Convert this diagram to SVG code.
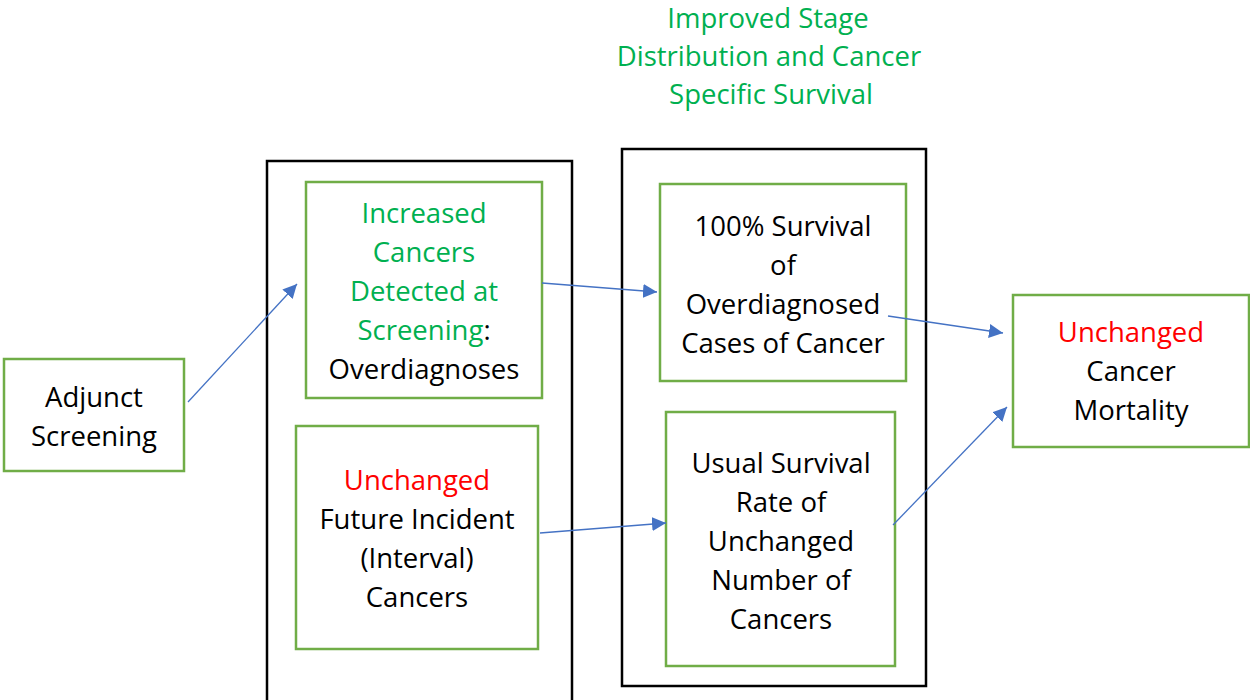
<svg xmlns="http://www.w3.org/2000/svg" width="1250" height="700" viewBox="0 0 1250 700">
  <defs>
    <style>
      .frame { fill: none; stroke: #000000; stroke-width: 2.5; }
      .box { fill: #ffffff; stroke: #70AD47; stroke-width: 2.5; }
      .lbl { font-family: "Open Sans", "Liberation Sans", sans-serif; font-size: 27.5px; fill: #000000; text-anchor: middle; }
      .g { fill: #00B050; }
      .r { fill: #FF0000; }
      .conn { stroke: #4472C4; stroke-width: 1.3; fill: none; marker-end: url(#arrow); }
    </style>
    <marker id="arrow" viewBox="0 0 10 10" refX="10" refY="5" markerWidth="14" markerHeight="14" markerUnits="userSpaceOnUse" orient="auto">
      <path d="M0,0 L10,5 L0,10 z" fill="#4472C4"/>
    </marker>
  </defs>
  <rect width="1250" height="700" fill="#ffffff"/>

  <!-- heading -->
  <g id="heading">
    <text class="lbl g" x="768" y="28">Improved Stage</text>
    <text class="lbl g" x="769" y="66">Distribution and Cancer</text>
    <text class="lbl g" x="771" y="104">Specific Survival</text>
  </g>

  <!-- grouping frames -->
  <g id="frame-detection">
    <rect class="frame" x="267" y="161" width="305" height="545"/>
  </g>
  <g id="frame-survival">
    <rect class="frame" x="622" y="149" width="304" height="537"/>
  </g>

  <g id="adjunct">
    <rect class="box" x="4" y="359" width="180" height="112"/>
    <text class="lbl" x="94" y="407">Adjunct</text>
    <text class="lbl" x="94" y="446">Screening</text>
  </g>

  <g id="increased">
    <rect class="box" x="306" y="182" width="236" height="216"/>
    <text class="lbl g" x="424" y="223">Increased</text>
    <text class="lbl g" x="424" y="262">Cancers</text>
    <text class="lbl g" x="424" y="301">Detected at</text>
    <text class="lbl" x="424" y="340"><tspan class="g">Screening</tspan>:</text>
    <text class="lbl" x="424" y="379">Overdiagnoses</text>
  </g>

  <g id="interval">
    <rect class="box" x="296" y="426" width="242" height="223"/>
    <text class="lbl r" x="417" y="490">Unchanged</text>
    <text class="lbl" x="417" y="529">Future Incident</text>
    <text class="lbl" x="417" y="568">(Interval)</text>
    <text class="lbl" x="417" y="607">Cancers</text>
  </g>

  <g id="overdiag-survival">
    <rect class="box" x="660" y="184" width="246" height="197"/>
    <text class="lbl" x="783" y="236">100% Survival</text>
    <text class="lbl" x="783" y="275">of</text>
    <text class="lbl" x="783" y="314">Overdiagnosed</text>
    <text class="lbl" x="783" y="353">Cases of Cancer</text>
  </g>

  <g id="usual-survival">
    <rect class="box" x="666" y="412" width="229" height="254"/>
    <text class="lbl" x="781" y="473">Usual Survival</text>
    <text class="lbl" x="781" y="512">Rate of</text>
    <text class="lbl" x="781" y="551">Unchanged</text>
    <text class="lbl" x="781" y="590">Number of</text>
    <text class="lbl" x="781" y="629">Cancers</text>
  </g>

  <g id="mortality">
    <rect class="box" x="1013" y="295" width="236" height="152"/>
    <text class="lbl r" x="1131" y="342">Unchanged</text>
    <text class="lbl" x="1131" y="381">Cancer</text>
    <text class="lbl" x="1131" y="420">Mortality</text>
  </g>

  <g id="connectors">
    <line class="conn" x1="188" y1="402" x2="297" y2="284"/>
    <line class="conn" x1="542" y1="283" x2="657" y2="292"/>
    <line class="conn" x1="888" y1="316" x2="1003" y2="333"/>
    <line class="conn" x1="540" y1="533" x2="666" y2="523"/>
    <line class="conn" x1="893" y1="525" x2="1007" y2="407"/>
  </g>
</svg>
